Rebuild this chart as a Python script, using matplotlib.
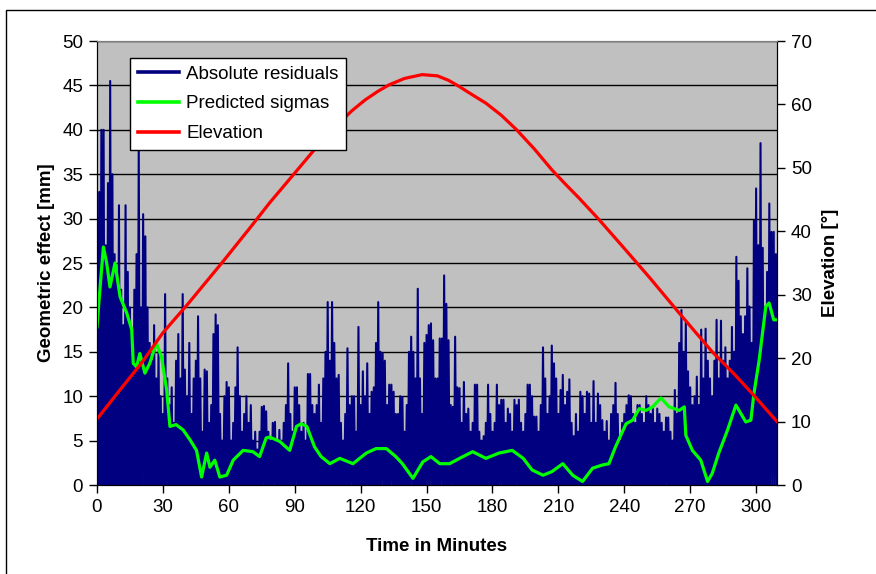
import numpy as np
import matplotlib.pyplot as plt
from matplotlib.lines import Line2D
from matplotlib.patches import Rectangle

plt.rcParams['font.family'] = ['Liberation Sans', 'DejaVu Sans']

# absolute residuals, one peak per minute (series drops to ~0 between peaks)
resid_peaks = [
    28, 33, 40, 40, 27, 34, 45.5, 35, 26, 24,
    31.5, 22, 18, 31.5, 24, 20, 17, 22, 26, 38,
    20, 30.5, 28, 20, 16, 14, 18, 12, 15, 10,
    8, 21.5, 12, 9, 11, 7, 14, 17, 12, 21.5,
    13, 10, 16, 8, 12, 14, 19, 12, 6, 13,
    12.8, 7, 9, 17, 19.2, 18, 8, 5, 10, 11.6,
    11, 5, 7, 11, 15.5, 10, 6, 8, 10, 7,
    9, 5, 6, 4, 6, 8.8, 8.9, 8.3, 6, 5,
    7, 7.1, 5, 6.2, 5, 7, 9, 13.7, 8, 6,
    11, 11, 9, 6, 7, 5, 12.5, 12.5, 9, 8,
    9, 11.3, 7, 12, 15, 20.6, 14, 20.6, 16, 12,
    12.4, 7, 5, 8, 15.4, 9, 10, 10, 6, 17.8,
    9, 12.8, 10, 13.7, 8, 10.5, 11, 16, 20.6, 15,
    14.8, 14, 9, 11.3, 11.3, 10.5, 8, 8, 10, 9.9,
    6, 9, 15, 16.7, 15, 12, 22.1, 12, 8, 16,
    16.9, 18, 18.2, 16.3, 12, 12, 16.5, 16.5, 23.6, 20.4,
    16.3, 9, 8.8, 16.7, 11, 10.9, 7, 11.6, 8, 8.6,
    6, 7, 11.3, 11.3, 6, 5, 5.5, 7, 11.3, 8,
    6, 7, 11.3, 9, 9.6, 9.6, 7, 8.6, 8, 6,
    9.6, 9, 9.6, 7, 6, 8, 11.3, 11.3, 10, 7.7,
    7.7, 6, 9, 15.5, 12, 8, 10, 15.7, 13.7, 12,
    8, 10.7, 12.4, 9, 10.5, 11.9, 7, 5.5, 8, 6,
    10.5, 10, 8, 10.5, 10.3, 7, 11.7, 7, 10.3, 9,
    7.3, 6, 7.2, 5, 8, 9, 11.5, 8, 5, 7,
    8, 9, 10.1, 10, 8, 7, 9, 9, 8, 7,
    10, 9, 8, 8.6, 7, 8.6, 8, 7, 6, 7.6,
    7.6, 6, 5, 10.7, 8, 16, 19.7, 15, 18.3, 12.8,
    11, 9, 10, 12.2, 9, 17.5, 12, 17.6, 14, 12,
    10, 14, 18.6, 12, 18.5, 14, 15.5, 12, 14, 17.8,
    15, 25.7, 23, 19, 17, 19, 24.4, 20.1, 16, 29.8,
    33.4, 27, 38.5, 26.7, 20, 24, 31.7, 28.5, 28.5, 26,
]
resid_trough = 0.0

sig_t = [0, 1, 2.9, 4.4, 5.9, 8.2, 10.5, 13.5, 15.8, 16.5,
         18, 19.5, 21.8, 24, 27, 29.4, 31.7, 33.2, 36, 39.2,
         42.3, 45.3, 47.6, 49.9, 51.4, 53.6, 55.9, 59, 62, 66.5,
         71, 74, 77, 78.6, 83.2, 87.7, 90.8, 93, 95.5, 99,
         102, 106, 110.5, 116.5, 122.6, 127, 131.7, 136, 139, 143.8,
         148.3, 152, 156, 160.5, 165, 171, 177, 183, 189, 194,
         198, 203, 207, 212, 216.5, 221, 225.6, 230, 233, 236,
         240.8, 243.8, 246.8, 249.9, 252.9, 256.7, 260.4, 265, 267.3, 268,
         271, 274.8, 277.9, 280, 283, 287, 290.8, 295.3, 297.6, 299,
         301.4, 304.4, 305.9, 308, 309.5]
sig_v = [17.8, 21, 26.8, 25, 22.3, 25, 21.2, 19.4, 17.5, 13.7,
         13.3, 14.8, 12.6, 13.7, 16, 14.4, 10.7, 6.6, 6.8, 6.2,
         5.1, 3.9, 0.9, 3.6, 2, 2.8, 0.9, 1.1, 2.8, 3.9,
         3.75, 3.2, 5.3, 5.4, 4.9, 3.9, 6.6, 6.9, 6.6, 4.3,
         3.2, 2.4, 3, 2.4, 3.6, 4.1, 4.1, 3.2, 2.4, 0.75,
         2.6, 3.2, 2.4, 2.4, 3, 3.75, 3, 3.6, 3.9, 3,
         1.7, 1.1, 1.5, 2.4, 1.1, 0.4, 1.9, 2.25, 2.4, 4.3,
         6.9, 7.3, 8.6, 8.4, 8.8, 9.8, 8.8, 8.4, 8.8, 5.6,
         3.9, 2.8, 0.4, 1.3, 3.6, 6.2, 9, 7.1, 7.3, 10.3,
         14.1, 20.1, 20.5, 18.6, 18.6]

elev_t = [0, 10, 20, 30, 42, 57.5, 70, 78.6, 92, 100,
          110, 116, 122, 128, 133, 140, 148, 155, 160, 165,
          170, 177, 184, 191, 199, 207, 213, 219.5, 228.6, 240,
          252, 265, 280, 290, 298, 309.5]
elev_v = [10.4, 14.8, 19.1, 24, 28.8, 35.3, 40.7, 44.5, 50, 53.3,
          57, 59, 60.7, 62.1, 63.1, 64.1, 64.7, 64.5, 63.8, 62.8,
          61.7, 60.2, 58.3, 56, 53, 49.7, 47.5, 45.2, 41.8, 37.3,
          32.5, 27.1, 21, 17.5, 14.5, 10]

xticks = list(range(0, 301, 30))

navy = '#000080'
green = '#00FF00'
red = '#FF0000'
fs = 13.5

# peaks at whole minutes, troughs half a minute later
n = len(resid_peaks)
res_t = np.empty(2 * n)
res_v = np.empty(2 * n)
res_t[0::2] = np.arange(n)
res_t[1::2] = np.arange(n) + 0.5
res_v[0::2] = resid_peaks
res_v[1::2] = resid_trough

fig = plt.figure(figsize=(8.76, 5.74), dpi=100)
fig.patches.append(Rectangle((6 / 876, -0.1), 1.2, 1 - 10 / 574 + 0.1,
                             transform=fig.transFigure, fill=False,
                             edgecolor='black', lw=1))

ax = fig.add_axes([97 / 876, 1 - 485 / 574, 680 / 876, 444 / 574])
ax.set_facecolor('#C0C0C0')
ax.plot(res_t, res_v, color=navy, lw=1.5, zorder=2)
ax.plot(sig_t, sig_v, color=green, lw=2.3, zorder=3)
ax.set_xlim(0, 309.5)
ax.set_ylim(0, 50)
ax.set_yticks(range(0, 51, 5))
ax.set_xticks(xticks)
ax.yaxis.grid(True, color='black', lw=1)
ax.set_axisbelow(True)
ax.tick_params(direction='out', length=6, width=1, labelsize=fs, pad=4)
ax.set_xlabel('Time in Minutes', fontsize=fs, fontweight='bold', labelpad=16)
ax.set_ylabel('Geometric effect [mm]', fontsize=fs, fontweight='bold', labelpad=5)
ax.spines['top'].set_color('#808080')

ax2 = ax.twinx()
ax2.plot(elev_t, elev_v, color=red, lw=2.3)
ax2.set_ylim(0, 70)
ax2.set_yticks(range(0, 71, 10))
ax2.tick_params(direction='out', length=6, width=1, labelsize=fs, pad=4)
ax2.set_ylabel('Elevation [°]', fontsize=fs, fontweight='bold', labelpad=7)
ax2.spines['top'].set_color('#808080')

handles = [Line2D([], [], color=navy, lw=2.6),
           Line2D([], [], color=green, lw=2.6),
           Line2D([], [], color=red, lw=2.6)]
leg = ax2.legend(handles, ['Absolute residuals', 'Predicted sigmas', 'Elevation'],
                 loc='upper left', bbox_to_anchor=(33 / 680, (485 - 58) / 444),
                 borderaxespad=0, fancybox=False, framealpha=1,
                 edgecolor='black', fontsize=fs, handlelength=2.2,
                 labelspacing=0.68, handletextpad=0.4, borderpad=0.4)
leg.get_frame().set_linewidth(1)

fig.savefig('out.png', dpi=100)
